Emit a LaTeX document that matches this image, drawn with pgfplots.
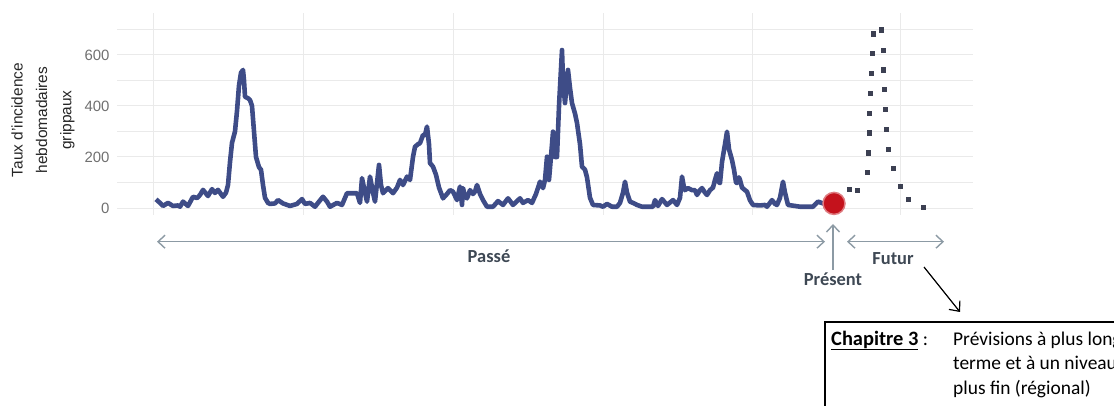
\documentclass[border=0pt]{standalone}
\usepackage{fontspec}
\setmainfont{Liberation Sans}
\newfontfamily\calibri{Carlito}
\usepackage{pgfplots}
\pgfplotsset{compat=1.18}
\usetikzlibrary{arrows.meta}

\definecolor{courbe}{RGB}{62,76,135}
\definecolor{grille}{RGB}{234,234,234}
\definecolor{fleche}{RGB}{140,154,164}
\definecolor{texte}{RGB}{62,72,84}
\definecolor{rouge}{RGB}{196,18,28}
\definecolor{pointille}{RGB}{60,64,82}
\definecolor{ticks}{RGB}{112,112,112}

\begin{document}
\begin{tikzpicture}
\path[use as bounding box] (0bp,0bp) rectangle (1114bp,406bp);
\clip (0bp,0bp) rectangle (1114bp,406bp);
\begin{axis}[
    at={(117bp,191bp)}, anchor=south west,
    scale only axis,
    width=856bp, height=202bp,
    xmin=117, xmax=973,
    ymin=-27.4, ymax=764,
    axis line style={draw=none},
    major tick length=0pt, minor tick length=0pt,
    xtick={153,303,453,603,752,900}, xticklabels={},
    ytick={0,200,400,600},
    minor ytick={100,300,500,700},
    grid=both,
    major grid style={grille, line width=1bp},
    minor grid style={grille, line width=1bp},
    /pgf/number format/assume math mode=true,
    yticklabel style={font=\fontsize{15}{18}\selectfont, text=ticks, xshift=-4bp},
    ylabel={Taux d’incidence\\hebdomadaires\\grippaux},
    every axis y label/.style={at={(axis description cs:-0.0864,0.47)},
        rotate=90, anchor=center, align=center,
        font=\fontsize{15.5}{24.5}\selectfont, text=black!85},
]
% passe : incidence hebdomadaire
\addplot[courbe, line width=4.6bp, line join=round, mark=none] coordinates {
(156,34) (160,20) (163,8) (168,20) (173,8) (178,10) (180,5) (183,25) (188,8)
(193,44) (197,39) (200,51) (203,71) (208,47) (212,74) (215,59) (218,71) (223,44)
(226,60) (228,90) (230,180) (232,255) (235,300) (237,380) (239,480) (241,530)
(243,541) (244,500) (245,436) (248,430) (250,423) (252,400) (254,300) (256,200)
(259,160) (261,150) (263,90) (265,40) (268,20) (270,16) (275,18) (278,31) (283,18)
(290,8) (297,16) (302,35) (305,16) (310,20) (315,5) (319,25) (323,44) (327,25)
(330,5) (337,20) (342,12) (347,58) (352,58) (357,58) (360,20) (362,117) (365,60)
(367,25) (370,123) (373,60) (375,25) (379,169) (381,90) (383,58) (388,78) (393,58)
(397,80) (400,110) (403,90) (407,123) (410,110) (413,200) (415,240) (418,250)
(420,254) (423,286) (425,286) (427,319) (429,250) (430,176) (433,162) (436,130)
(439,80) (443,38) (447,55) (450,70) (453,64) (457,31) (460,84) (462,12) (463,78)
(465,45) (467,38) (470,70) (473,55) (475,64) (477,90) (480,55) (483,31) (487,5)
(493,5) (498,27) (503,12) (508,38) (513,12) (520,38) (523,20) (528,31) (532,20)
(536,55) (540,103) (543,78) (545,110) (547,201) (549,110) (552,250) (553,299)
(555,200) (557,200) (559,400) (562,619) (563,500) (565,411) (567,500) (568,541)
(570,470) (572,411) (575,370) (577,333) (580,250) (582,162) (585,150) (587,120)
(590,40) (593,12) (600,10) (603,5) (607,16) (612,5) (617,5) (620,20) (623,60)
(625,103) (627,60) (630,25) (633,20) (637,12) (642,5) (647,5) (653,5) (655,31)
(658,8) (662,35) (667,12) (673,31) (677,12) (680,40) (682,123) (684,80) (685,70)
(688,78) (692,70) (695,70) (697,51) (700,70) (702,78) (705,60) (707,51) (710,70)
(713,80) (715,110) (717,136) (719,100) (720,98) (722,180) (725,250) (727,299)
(729,230) (732,188) (734,150) (736,100) (737,98) (739,120) (740,110) (742,80)
(745,70) (747,64) (750,30) (753,12) (760,10) (765,12) (767,5) (772,31) (775,16)
(777,12) (780,40) (783,103) (785,60) (788,12) (795,8) (800,5) (808,5) (813,5)
(818,25) (823,18) (828,22) (834,18)
};
% futur : prevision
\addplot[only marks, mark=square*, mark size=2.3bp, color=pointille] coordinates {
(849,74) (857,70) (867,141) (868,217) (869,294) (869,371) (870,450) (871,528)
(872,606) (873,684) (881,698) (883,619) (883,541) (884,465) (885,387) (886,308)
(888,230) (893,156) (900,86) (908,34) (923,3)
};
% present
\addplot[only marks, mark=*, mark size=11bp,
    mark options={fill=rouge, draw=rouge!55!white, line width=1.5bp}] coordinates {(834,18)};
\end{axis}

\begin{scope}[x=1bp, y=1bp]
% fleches du temps
\draw[fleche, line width=1.4bp, {Straight Barb[length=7bp,width=13bp]}-{Straight Barb[length=7bp,width=13bp]}]
    (157,164.3) -- (825,164.3);
\draw[fleche, line width=1.4bp, {Straight Barb[length=7bp,width=13bp]}-{Straight Barb[length=7bp,width=13bp]}]
    (847,164.3) -- (944,164.3);
\draw[fleche, line width=1.4bp, -{Straight Barb[length=7bp,width=13bp]}] (833,136) -- (833,182);
\node[text=texte, font=\calibri\bfseries\fontsize{18.5}{22}\selectfont] at (489,150) {Passé};
\node[text=texte, font=\calibri\bfseries\fontsize{18.5}{22}\selectfont] at (893,147) {Futur};
\node[text=texte, font=\calibri\bfseries\fontsize{18.5}{22}\selectfont] at (833,127) {Présent};

% chapitre 3
\draw[black, line width=1.2bp, -{Straight Barb[length=8bp,width=14bp]}] (924,139) -- (960,94);
\draw[black, line width=1.5bp] (825,84) rectangle (1130,-20);
\begin{scope}[every node/.style={anchor=base west, inner sep=0pt, font=\calibri\fontsize{19.5}{24}\selectfont}]
\node at (831,61) {{\bfseries\fontsize{20.5}{24}\selectfont\underline{Chapitre 3}}\ :};
\node at (953,61) {Prévisions à plus long};
\node at (953,36.5) {terme et à un niveau};
\node at (953,12) {plus fin (régional)};
\end{scope}
\end{scope}
\end{tikzpicture}
\end{document}
